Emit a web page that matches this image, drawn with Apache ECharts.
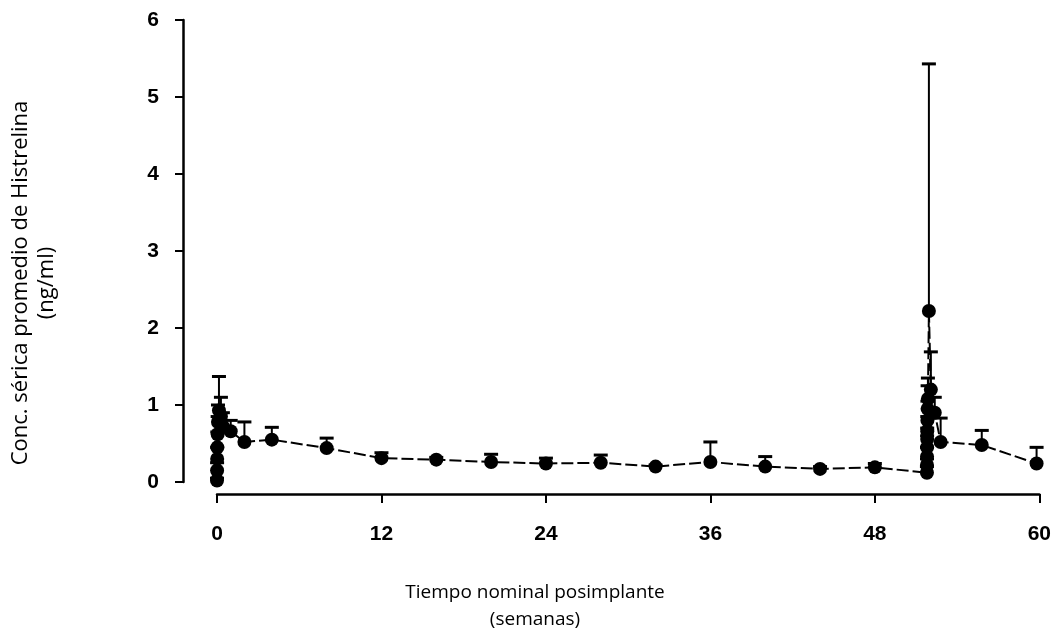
<!DOCTYPE html>
<html lang="es">
<head>
    <meta charset="UTF-8">
    <title>Histrelina</title>
    <script src="https://cdn.jsdelivr.net/npm/echarts@6/dist/echarts.min.js"></script>
    <style type="text/css">
        html, body { margin:0; padding:0; background:#fff; }
        #main { width:1054px; height:631px; }
    </style>
</head>
<body>
<div id="main"></div>
<script type="application/javascript">
    // weeks after first implant (second implant around week 52)
    var weeks = [0, 0.006, 0.012, 0.024, 0.048, 0.071, 0.143, 0.286, 0.429, 1, 2, 4, 8, 12, 16, 20, 24, 28, 32, 36, 40, 44, 48,
                 51.8, 51.803, 51.806, 51.812, 51.818, 51.824, 51.836, 51.848, 51.871, 51.943, 52.086, 52.37, 52.8, 55.8, 59.8];
    // mean serum concentration (ng/ml)
    var meanConc = [0.02, 0.15, 0.3, 0.45, 0.62, 0.78, 0.93, 0.85, 0.72, 0.66, 0.52, 0.55, 0.44, 0.31, 0.29, 0.26, 0.24, 0.25, 0.2, 0.26, 0.2, 0.17, 0.19,
                    0.12, 0.22, 0.33, 0.45, 0.56, 0.66, 0.8, 0.95, 1.08, 2.22, 1.2, 0.9, 0.52, 0.48, 0.24];
    // top of each error bar (mean + SD)
    var upperConc = [0.05, 0.25, 0.45, 0.65, 0.85, 1.0, 1.37, 1.1, 0.9, 0.8, 0.78, 0.71, 0.57, 0.38, 0.32, 0.36, 0.31, 0.35, 0.22, 0.52, 0.33, 0.2, 0.24,
                     0.2, 0.3, 0.45, 0.6, 0.7, 0.85, 1.05, 1.25, 1.35, 5.43, 1.69, 1.1, 0.83, 0.67, 0.45];
    var xTicks = [0, 12, 24, 36, 48, 60];
    var yTicks = [0, 1, 2, 3, 4, 5, 6];

    var points = weeks.map(function (w, i) { return [w, meanConc[i]]; });
    var bars = weeks.map(function (w, i) { return [w, meanConc[i], upperConc[i]]; });

    var myChart = echarts.init(document.getElementById('main'));

    var tickFont = { color:'#000', fontSize:21, fontWeight:'bold', fontFamily:'Liberation Sans' };
    var titleFont = { fill:'#000', fontFamily:'Open Sans', textAlign:'center', textVerticalAlign:'middle' };

    myChart.setOption({
        animation:false,
        grid:{ left:217, right:13, top:20, bottom:149 },
        xAxis:{
            type:'value', min:xTicks[0], max:xTicks[xTicks.length - 1], interval:12,
            offset:12,
            axisLine:{ onZero:false, lineStyle:{ color:'#000', width:2.5 } },
            axisTick:{ show:true, length:9, lineStyle:{ color:'#000', width:2 } },
            axisLabel:{ margin:30, color:tickFont.color, fontSize:tickFont.fontSize, fontWeight:tickFont.fontWeight, fontFamily:tickFont.fontFamily },
            splitLine:{ show:false }
        },
        yAxis:{
            type:'value', min:yTicks[0], max:yTicks[yTicks.length - 1], interval:1,
            offset:34,
            axisLine:{ show:true, onZero:false, lineStyle:{ color:'#000', width:2.5 } },
            axisTick:{ show:true, length:8, lineStyle:{ color:'#000', width:2 } },
            axisLabel:{ margin:24, color:tickFont.color, fontSize:tickFont.fontSize, fontWeight:tickFont.fontWeight, fontFamily:tickFont.fontFamily },
            splitLine:{ show:false }
        },
        graphic:[
            { type:'text', x:21, y:283, rotation:Math.PI / 2, style:Object.assign({ text:'Conc. sérica promedio de Histrelina', fontSize:22 }, titleFont) },
            { type:'text', x:47, y:283, rotation:Math.PI / 2, style:Object.assign({ text:'(ng/ml)', fontSize:22 }, titleFont) },
            { type:'text', x:535, y:593, style:Object.assign({ text:'Tiempo nominal posimplante', fontSize:19 }, titleFont) },
            { type:'text', x:535, y:620, style:Object.assign({ text:'(semanas)', fontSize:19 }, titleFont) }
        ],
        series:[
            {
                type:'custom',
                data:bars,
                z:1,
                clip:false,
                renderItem:function (params, api) {
                    var p0 = api.coord([api.value(0), api.value(1)]);
                    var p1 = api.coord([api.value(0), api.value(2)]);
                    return {
                        type:'group',
                        children:[
                            { type:'line', shape:{ x1:p0[0], y1:p0[1], x2:p1[0], y2:p1[1] }, style:{ stroke:'#000', lineWidth:2 } },
                            { type:'line', shape:{ x1:p1[0] - 7, y1:p1[1], x2:p1[0] + 7, y2:p1[1] }, style:{ stroke:'#000', lineWidth:3 } }
                        ]
                    };
                }
            },
            {
                type:'line',
                data:points,
                z:2,
                clip:false,
                symbol:'circle',
                symbolSize:14,
                itemStyle:{ color:'#000' },
                lineStyle:{ color:'#000', width:2, type:[12, 4] }
            }
        ]
    });
</script>
</body>
</html>
